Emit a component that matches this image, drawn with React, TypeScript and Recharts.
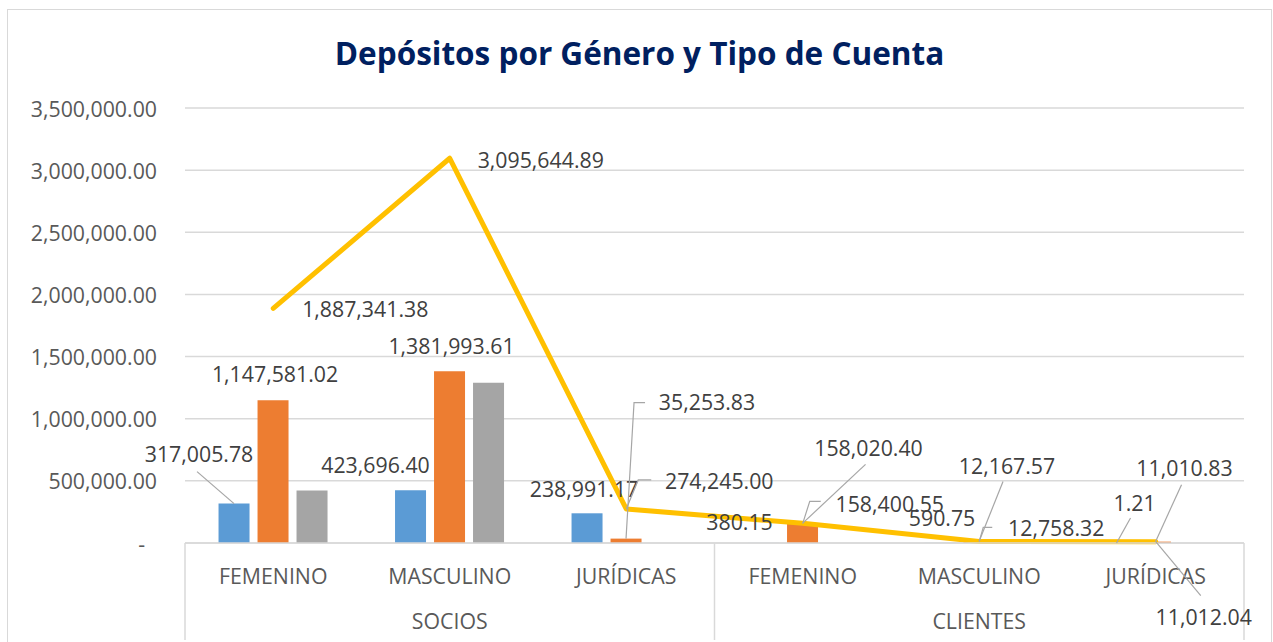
import React from 'react';
import { ComposedChart, Bar, Line, XAxis, YAxis, CartesianGrid, LabelList } from 'recharts';

// Depósitos por género y tipo de cuenta (Excel-style combo chart)

const categories = ['FEMENINO', 'MASCULINO', 'JURÍDICAS', 'FEMENINO', 'MASCULINO', 'JURÍDICAS'];
const groups = ['SOCIOS', 'SOCIOS', 'SOCIOS', 'CLIENTES', 'CLIENTES', 'CLIENTES'];

const blueValues = [317005.78, 423696.4, 238991.17, 380.15, 590.75, 1.21];
const orangeValues = [1147581.02, 1381993.61, 35253.83, 158020.4, 12167.57, 11010.83];
const grayValues = [422754.58, 1289954.88, 0, 0, 0, 0];
const totalValues = [1887341.38, 3095644.89, 274245.0, 158400.55, 12758.32, 11012.04];

const yTicks = [0, 500000, 1000000, 1500000, 2000000, 2500000, 3000000, 3500000];

const data = categories.map((cat, i) => ({
    key: `${groups[i]}-${cat}`,
    cat,
    group: groups[i],
    blue: blueValues[i],
    orange: orangeValues[i],
    gray: grayValues[i],
    total: totalValues[i],
}));

// label placement (offset from the bar top / point, optional leader line)
type Placement = { dx: number; dy: number; leader?: number[][] } | null;

const blueLabelPos: Placement[] = [
    { dx: -35, dy: -50, leader: [[0, 0], [-37, -32]] },
    { dx: -35, dy: -26 },
    { dx: -3, dy: -25 },
    { dx: -24, dy: -21 },
    { dx: 2, dy: -25 },
    { dx: 18, dy: -40, leader: [[0, 0], [14, -25]] },
];
const orangeLabelPos: Placement[] = [
    { dx: 2, dy: -27 },
    { dx: 2, dy: -26 },
    { dx: 81, dy: -137, leader: [[0, 0], [8, -136], [19, -136]] },
    { dx: 66, dy: -76, leader: [[0, 0], [63, -59]] },
    { dx: 28, dy: -76, leader: [[0, 0], [24, -60]] },
    { dx: 29, dy: -74, leader: [[0, 0], [26, -57]] },
];
const grayLabelPos: Placement[] = [null, null, null, null, null, null];
const totalLabelPos: Placement[] = [
    { dx: 92, dy: 0 },
    { dx: 91, dy: 1 },
    { dx: 93, dy: -28, leader: [[0, 0], [12, -29], [25, -29]] },
    { dx: 87, dy: -20, leader: [[0, 0], [7, -22], [18, -22]] },
    { dx: 77, dy: -14, leader: [[0, 0], [4, -14], [13, -14]] },
    { dx: 48, dy: 75, leader: [[0, 0], [45, 54]] },
];

const FONT = "'Open Sans', 'Noto Sans', sans-serif";
const FONT_SIZE = 21.3;
const COLORS = {
    blue: '#5B9BD5',
    orange: '#ED7D31',
    gray: '#A5A5A5',
    line: '#FFC000',
    grid: '#D9D9D9',
    text: '#404040',
    axisText: '#595959',
    title: '#002060',
};

const fmt = (v: number) =>
    v.toLocaleString('en-US', { minimumFractionDigits: 2, maximumFractionDigits: 2 });

const makeLabel = (placements: Placement[]) => (props: any) => {
    const { index, value } = props;
    const p = placements[index];
    if (!p || value == null) return null;
    const vb = props.viewBox ?? {};
    const x = vb.x ?? props.x ?? 0;
    const y = vb.y ?? props.y ?? 0;
    const w = vb.width ?? props.width ?? 0;
    const h = vb.height ?? props.height ?? 0;
    const ax = x + w / 2;
    const ay = Math.min(y, y + h);
    return (
        <g key={`lbl-${index}`}>
            {p.leader && (
                <polyline
                    points={p.leader.map(([lx, ly]) => `${ax + lx},${ay + ly}`).join(' ')}
                    fill="none"
                    stroke="#A6A6A6"
                    strokeWidth={1.2}
                />
            )}
            <text
                x={ax + p.dx}
                y={ay + p.dy}
                textAnchor="middle"
                dominantBaseline="central"
                fontSize={FONT_SIZE}
                fontFamily={FONT}
                fill={COLORS.text}
            >
                {fmt(Number(value))}
            </text>
        </g>
    );
};

const ValueTick = (props: any) => {
    const { x, y, payload } = props;
    const zero = payload.value === 0;
    return (
        <text
            x={zero ? x - 12 : x}
            y={y}
            textAnchor="end"
            dominantBaseline="central"
            fontSize={FONT_SIZE}
            fontFamily={FONT}
            fill={COLORS.axisText}
        >
            {zero ? '-' : fmt(payload.value)}
        </text>
    );
};

const CategoryTick = (props: any) => {
    const { x, y, payload } = props;
    const i = payload?.index ?? props.index ?? 0;
    const half = payload?.offset || 88.25;
    const sepBottom = y + 97;
    return (
        <g>
            {(i === 0 || i === 3) && (
                <line x1={x - half} x2={x - half} y1={y} y2={sepBottom} stroke={COLORS.grid} strokeWidth={1.5} />
            )}
            {i === categories.length - 1 && (
                <line x1={x + half} x2={x + half} y1={y} y2={sepBottom} stroke={COLORS.grid} strokeWidth={1.5} />
            )}
            <text
                x={x}
                y={y + 32}
                textAnchor="middle"
                dominantBaseline="central"
                fontSize={FONT_SIZE}
                fontFamily={FONT}
                fill={COLORS.axisText}
            >
                {categories[i]}
            </text>
            {(i === 1 || i === 4) && (
                <text
                    x={x}
                    y={y + 77}
                    textAnchor="middle"
                    dominantBaseline="central"
                    fontSize={FONT_SIZE}
                    fontFamily={FONT}
                    fill={COLORS.axisText}
                >
                    {groups[i]}
                </text>
            )}
        </g>
    );
};

export default function App() {
    return (
        <div
            style={{
                position: 'absolute',
                left: 0,
                top: 0,
                width: 1273,
                height: 642,
                overflow: 'hidden',
                background: '#fff',
                fontFamily: FONT,
            }}
        >
            {/* chart frame */}
            <div
                style={{
                    position: 'absolute',
                    left: 7,
                    top: 9,
                    width: 1265,
                    height: 660,
                    border: `1.5px solid ${COLORS.grid}`,
                    boxSizing: 'border-box',
                }}
            />
            {/* title */}
            <div
                style={{
                    position: 'absolute',
                    left: 0,
                    width: 1279,
                    top: 30,
                    textAlign: 'center',
                    fontSize: 31.5,
                    fontWeight: 700,
                    color: COLORS.title,
                    lineHeight: '46px',
                }}
            >
                Depósitos por Género y Tipo de Cuenta
            </div>
            <div style={{ position: 'absolute', left: 0, top: 0 }}>
                <ComposedChart
                    width={1273}
                    height={642}
                    data={data}
                    margin={{ top: 108, right: 29, bottom: 0, left: 0 }}
                    barCategoryGap="19%"
                    barGap={8}
                >
                    <CartesianGrid vertical={false} stroke={COLORS.grid} strokeWidth={1.5} />
                    <XAxis
                        dataKey="key"
                        height={99}
                        tickLine={false}
                        tickSize={0}
                        tickMargin={0}
                        axisLine={{ stroke: COLORS.grid, strokeWidth: 1.5 }}
                        tick={CategoryTick}
                        interval={0}
                    />
                    <YAxis
                        width={185}
                        domain={[0, 3500000]}
                        ticks={yTicks}
                        axisLine={false}
                        tickLine={false}
                        tickMargin={22}
                        tick={ValueTick}
                        interval={0}
                    />
                    <Bar dataKey="blue" fill={COLORS.blue} isAnimationActive={false}>
                        <LabelList dataKey="blue" content={makeLabel(blueLabelPos)} />
                    </Bar>
                    <Bar dataKey="orange" fill={COLORS.orange} isAnimationActive={false}>
                        <LabelList dataKey="orange" content={makeLabel(orangeLabelPos)} />
                    </Bar>
                    <Bar dataKey="gray" fill={COLORS.gray} isAnimationActive={false}>
                        <LabelList dataKey="gray" content={makeLabel(grayLabelPos)} />
                    </Bar>
                    <Line
                        dataKey="total"
                        type="linear"
                        stroke={COLORS.line}
                        strokeWidth={5}
                        strokeLinecap="round"
                        strokeLinejoin="round"
                        dot={false}
                        activeDot={false}
                        isAnimationActive={false}
                    >
                        <LabelList dataKey="total" content={makeLabel(totalLabelPos)} />
                    </Line>
                </ComposedChart>
            </div>
        </div>
    );
}
